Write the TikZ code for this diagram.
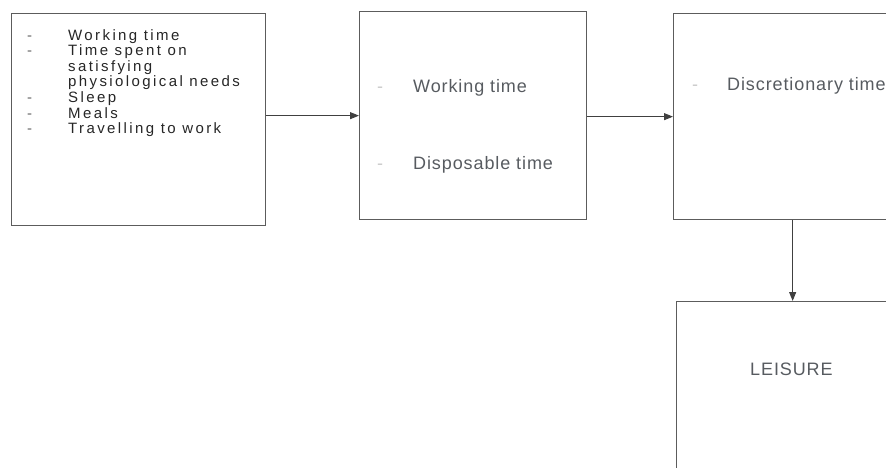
\documentclass[tikz,border=0pt]{standalone}
\usepackage{fontspec}
\setmainfont{Liberation Sans}[LetterSpace=5]
\newfontfamily\listfont{Liberation Sans}[LetterSpace=16]
\usepackage{xcolor}
\usetikzlibrary{arrows.meta,positioning}
\definecolor{frame}{HTML}{5C5C5C}
\definecolor{ink}{HTML}{262626}
\definecolor{soft}{HTML}{575B60}
\definecolor{faint}{HTML}{C9C9C9}
\tikzset{
  box/.style={draw=frame, line width=1.3pt, inner sep=0pt, anchor=north west},
  link/.style={draw=frame!70!black, line width=1pt, -{Triangle[length=9pt,width=7pt]}},
  lab/.style={text=soft, font=\fontsize{18}{18}\selectfont, inner sep=0pt, anchor=base west},
  labk/.style={lab, text=ink, font=\listfont\fontsize{15}{15}\selectfont},
  bullet/.style={lab, text=faint},
  bulletk/.style={labk, text=ink!70}
}

\begin{document}
\begin{tikzpicture}[x=1pt,y=-1pt]
  \useasboundingbox (0,0) rectangle (886,468);
  \clip (0,0) rectangle (886,468);

  % the four boxes
  \node[box, minimum width=254pt, minimum height=212pt] (needs) at (11,13) {};
  \node[box, minimum width=227pt, minimum height=208pt] (split) at (359,11) {};
  \node[box, minimum width=238pt, minimum height=206pt] (free) at (673,13) {};
  \node[box, minimum width=232pt, minimum height=230pt] (leisure) at (676,301) {};

  % left list
  \foreach \i/\t/\d in {1/Working time/1, 2/Time spent on/1, 3/satisfying/0,
      4/physiological needs/0, 5/Sleep/1, 6/Meals/1, 7/Travelling to work/1}{
    \node[labk] (n\i) at (68,{24.5+15.6*\i}) {\t};
    \ifnum\d=1 \node[bulletk] (d\i) at (27,{24.5+15.6*\i}) {-}; \fi
  }

  % middle box
  \node[bullet] (dw) at (377,93) {-};
  \node[lab] (work) at (413,93) {Working time};
  \node[bullet] (dd) at (377,169) {-};
  \node[lab] (disp) at (413,169) {Disposable time};

  % right boxes
  \node[bullet] (dr) at (692,91) {-};
  \node[lab] (disc) at (727,91) {Discretionary time};
  \node[lab] (lei) at (750,375) {LEISURE};

  % connectors
  \draw[link] (needs.east |- split.west) -- (split.west);
  \draw[link] (split.east |- free.west) -- (free.west);
  \draw[link] (leisure.north |- free.south) -- (leisure.north);
\end{tikzpicture}
\end{document}
